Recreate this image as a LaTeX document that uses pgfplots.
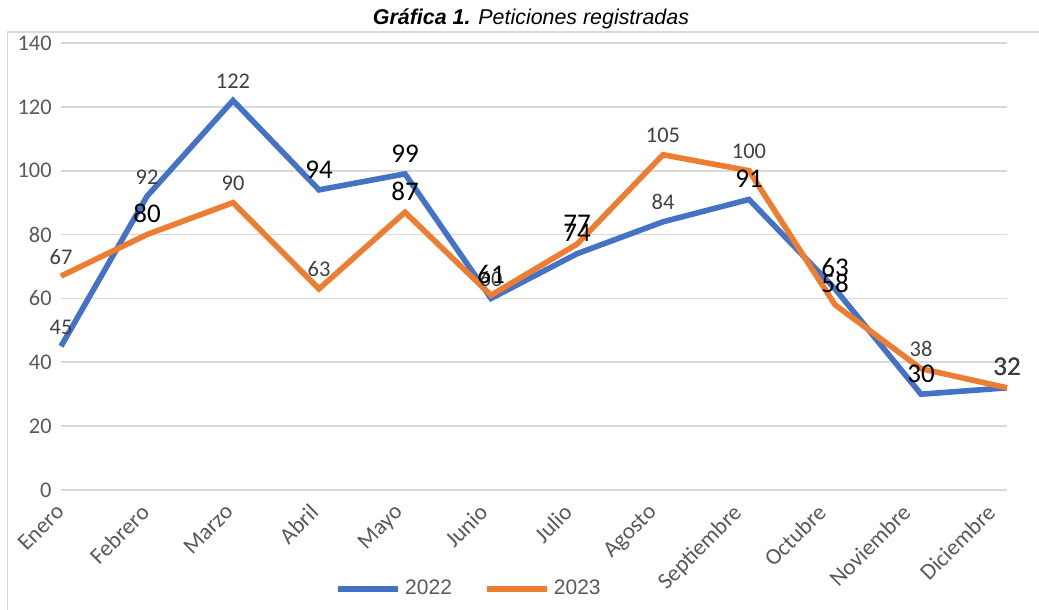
\documentclass[border=0pt]{standalone}
\usepackage{pgfplots}
\pgfplotsset{compat=1.18}
\usepackage{pgfplotstable}
\usepackage{fontspec}
\setmainfont{Carlito}
\newfontfamily\arialfont{Liberation Sans}

\definecolor{c22}{HTML}{4472C4}
\definecolor{c23}{HTML}{ED7D31}
\definecolor{gridgray}{HTML}{D9D9D9}
\definecolor{tickgray}{HTML}{595959}
\definecolor{lblgray}{HTML}{404040}

% month index, value, label style (0 small gray, 1 large black, 2 large gray)
\pgfplotstableread{
m v22 b22 v23 b23
0 45 0 67 0
1 92 0 80 1
2 122 0 90 0
3 94 1 63 0
4 99 1 87 1
5 60 0 61 1
6 74 1 77 1
7 84 0 105 0
8 91 1 100 0
9 63 1 58 1
10 30 1 38 0
11 32 1 32 2
}\peticiones

\newcommand{\etiq}{\ifdim\blk pt>1.5pt\fontsize{13.5}{15}\selectfont\color{lblgray}\else\ifdim\blk pt>0.5pt\fontsize{13.5}{15}\selectfont\color{black}\else\fontsize{11.2}{13}\selectfont\color{lblgray}\fi\fi\pgfmathprintnumber{\pgfplotspointmeta}}

\begin{document}
\begin{tikzpicture}
\useasboundingbox (0pt,0pt) rectangle (519.5pt,305pt);
\draw[gridgray, line width=0.8pt] (3.75pt,-1pt) -- (3.75pt,289pt) -- (520pt,289pt);
\node[font=\arialfont\fontsize{10.7}{12}\selectfont] at (265.5pt,295.5pt)
  {\textbf{\textit{Gráfica 1.}} \textit{Peticiones registradas}};
\begin{axis}[
  at={(30.5pt,60pt)}, anchor=south west,
  scale only axis, width=473pt, height=223.5pt,
  xmin=0, xmax=11, ymin=0, ymax=140,
  clip=false,
  /pgf/number format/assume math mode=true,
  axis line style={draw=none}, major tick length=0pt,
  ytick={0,20,...,140},
  ymajorgrids, grid style={gridgray, line width=0.8pt},
  xtick={0,0.984,1.967,2.951,3.935,4.919,5.902,6.886,7.870,8.853,9.837,10.821},
  xticklabels={Enero,Febrero,Marzo,Abril,Mayo,Junio,Julio,Agosto,Septiembre,Octubre,Noviembre,Diciembre},
  yticklabel style={font=\fontsize{11.2}{13}\selectfont, text=tickgray, inner sep=0pt, xshift=-4.5pt},
  xticklabel style={font=\fontsize{11.5}{13}\selectfont, text=tickgray, xshift=-3.15pt, yshift=-6.2pt, rotate=45, anchor=north east, inner sep=0pt},
  every node near coord/.append style={anchor=south, inner sep=0pt, yshift=4.5pt},
  legend style={at={(0.4323,-0.2215)}, anchor=center, draw=none, fill=none,
    legend columns=2, font=\arialfont\fontsize{10.5}{12}\selectfont, text=tickgray,
    /tikz/every even column/.append style={column sep=14pt}},
  legend image code/.code={\draw[#1, line width=3pt] (0pt,0pt) -- (30pt,0pt);},
]
\addplot[c22, line width=2.8pt, nodes near coords={\etiq},
  visualization depends on={\thisrow{b22} \as \blk}]
  table[x=m, y=v22] {\peticiones};
\addlegendentry{2022}
\addplot[c23, line width=2.8pt, nodes near coords={\etiq},
  visualization depends on={\thisrow{b23} \as \blk}]
  table[x=m, y=v23] {\peticiones};
\addlegendentry{2023}
\end{axis}
\end{tikzpicture}
\end{document}
